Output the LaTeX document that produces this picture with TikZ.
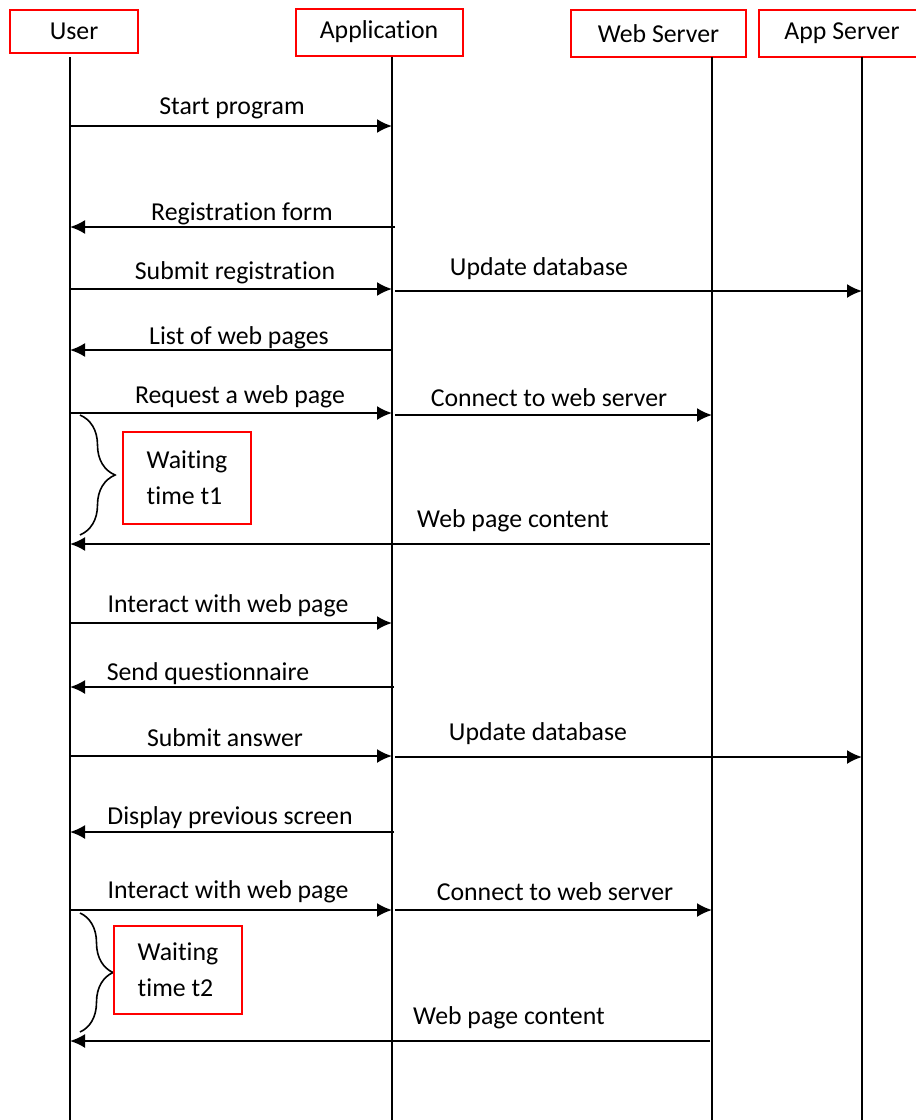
\documentclass[tikz,border=0pt]{standalone}
\usepackage{fontspec}
\setmainfont[Ligatures=NoCommon]{Carlito}
\usepackage{tikz}
\usetikzlibrary{math,arrows.meta,decorations.pathreplacing}
\tikzset{
  actor/.style = {draw=red, line width=1pt, rectangle, inner sep=0pt,
    minimum height=23.5pt, font=\fontsize{12.9}{15}\selectfont},
  lifeline/.style = {line width=0.8pt},
  msg/.style = {line width=1pt, -{Latex[length=7.5pt,width=7pt]}},
  lbl/.style = {inner sep=0pt, font=\fontsize{12.9}{15}\selectfont},
  waitbox/.style = {draw=red, line width=1pt, rectangle, inner sep=0pt,
    minimum width=64pt, align=left, font=\fontsize{12.9}{18}\selectfont},
  waitbrace/.style = {decorate, decoration={brace, amplitude=#1}, line width=0.8pt}
}

\begin{document}
\begin{tikzpicture}[x=0.5pt, y=-0.5pt]
    \tikzmath{
      \xUser = 70;
      \xApp = 392;
      \xWeb = 712;
      \xAppSrv = 862;
      \topY = 57;
      \bottomY = 1120;
    }
    \useasboundingbox (0,0) rectangle (916,1120);
    % actors
    \node[actor, minimum width=64pt, minimum height=21.5pt] (user) at (74,31.5) {User};
    \node[actor, minimum width=83.5pt] (app) at (379,32) {Application};
    \node[actor, minimum width=87.5pt] (web) at (658.5,33.5) {Web Server};
    \node[actor, minimum width=83pt] (appsrv) at (842,33.5) {App Server};
    % lifelines
    \coordinate (userTop) at (\xUser, \topY);
    \coordinate (userBot) at (\xUser, \bottomY);
    \coordinate (appTop) at (\xApp, \topY);
    \coordinate (appBot) at (\xApp, \bottomY);
    \coordinate (webTop) at (\xWeb, \topY);
    \coordinate (webBot) at (\xWeb, \bottomY);
    \coordinate (appsrvTop) at (\xAppSrv, \topY);
    \coordinate (appsrvBot) at (\xAppSrv, \bottomY);
    \draw[lifeline] (userTop) -- (userBot);
    \draw[lifeline] (appTop) -- (appBot);
    \draw[lifeline] (webTop) -- (webBot);
    \draw[lifeline] (appsrvTop) -- (appsrvBot);
    % start program
    \coordinate (startU) at (\xUser, 126);
    \coordinate (startA) at (\xApp, 126);
    \draw[msg] (startU) -- (startA);
    \node[lbl] (startLbl) at (232,108) {Start program};
    % registration form
    \coordinate (regA) at (\xApp+3, 227);
    \coordinate (regU) at (\xUser, 227);
    \draw[msg] (regA) -- (regU);
    \node[lbl] (regLbl) at (242,214) {Registration form};
    % submit registration
    \coordinate (subU) at (\xUser, 289);
    \coordinate (subA) at (\xApp, 289);
    \draw[msg] (subU) -- (subA);
    \node[lbl] (subLbl) at (235,273) {Submit registration};
    \coordinate (updA) at (\xApp+3, 291);
    \coordinate (updS) at (\xAppSrv, 291);
    \draw[msg] (updA) -- (updS);
    \node[lbl] (updLbl) at (539,269) {Update database};
    % list of web pages
    \coordinate (listA) at (\xApp, 350);
    \coordinate (listU) at (\xUser, 350);
    \draw[msg] (listA) -- (listU);
    \node[lbl] (listLbl) at (239,338) {List of web pages};
    % request a web page
    \coordinate (reqU) at (\xUser, 413);
    \coordinate (reqA) at (\xApp, 413);
    \draw[msg] (reqU) -- (reqA);
    \node[lbl] (reqLbl) at (240,397) {Request a web page};
    \coordinate (conA) at (\xApp+3, 415);
    \coordinate (conW) at (\xWeb, 415);
    \draw[msg] (conA) -- (conW);
    \node[lbl] (conLbl) at (549,398) {Connect to web server};
    % waiting time t1
    \coordinate (braceTopA) at (80,415);
    \coordinate (braceBotA) at (80,535);
    \draw[waitbrace=17.5pt] (braceTopA) -- (braceBotA);
    \node[waitbox, minimum height=46pt] (waitA) at (187,478) {Waiting\\time t1};
    % web page content
    \coordinate (pageW) at (\xWeb-2, 544);
    \coordinate (pageU) at (\xUser, 544);
    \draw[msg] (pageW) -- (pageU);
    \node[lbl] (pageLbl) at (513,521) {Web page content};
    % interact with web page
    \coordinate (intU) at (\xUser, 623);
    \coordinate (intA) at (\xApp, 623);
    \draw[msg] (intU) -- (intA);
    \node[lbl] (intLbl) at (228,606) {Interact with web page};
    % send questionnaire
    \coordinate (questA) at (\xApp+2, 687);
    \coordinate (questU) at (\xUser, 687);
    \draw[msg] (questA) -- (questU);
    \node[lbl] (questLbl) at (208,674) {Send questionnaire};
    % submit answer
    \coordinate (ansU) at (\xUser, 756);
    \coordinate (ansA) at (\xApp, 756);
    \draw[msg] (ansU) -- (ansA);
    \node[lbl] (ansLbl) at (225,738) {Submit answer};
    \coordinate (upd2A) at (\xApp+3, 757);
    \coordinate (upd2S) at (\xAppSrv, 757);
    \draw[msg] (upd2A) -- (upd2S);
    \node[lbl] (upd2Lbl) at (538,734) {Update database};
    % display previous screen
    \coordinate (dispA) at (\xApp+2, 832);
    \coordinate (dispU) at (\xUser, 832);
    \draw[msg] (dispA) -- (dispU);
    \node[lbl] (dispLbl) at (230,818) {Display previous screen};
    % interact with web page again
    \coordinate (int2U) at (\xUser, 910);
    \coordinate (int2A) at (\xApp, 910);
    \draw[msg] (int2U) -- (int2A);
    \node[lbl] (int2Lbl) at (228,892) {Interact with web page};
    \coordinate (con2A) at (\xApp+3, 910);
    \coordinate (con2W) at (\xWeb, 910);
    \draw[msg] (con2A) -- (con2W);
    \node[lbl] (con2Lbl) at (555,892) {Connect to web server};
    % waiting time t2
    \coordinate (braceTopB) at (80,913);
    \coordinate (braceBotB) at (80,1032);
    \draw[waitbrace=16.5pt] (braceTopB) -- (braceBotB);
    \node[waitbox, minimum height=44pt] (waitB) at (178,970) {Waiting\\time t2};
    % web page content again
    \coordinate (page2W) at (\xWeb-2, 1041);
    \coordinate (page2U) at (\xUser, 1041);
    \draw[msg] (page2W) -- (page2U);
    \node[lbl] (page2Lbl) at (509,1018) {Web page content};
  \end{tikzpicture}
\end{document}
